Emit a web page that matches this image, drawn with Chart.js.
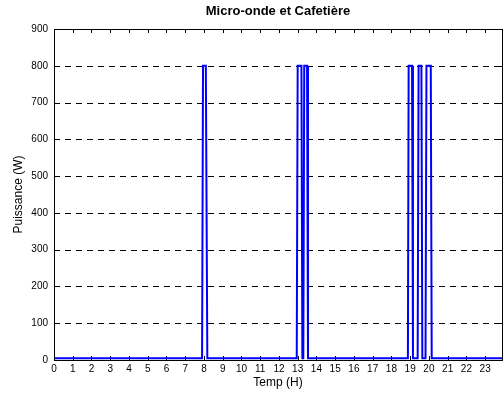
<!DOCTYPE html>
<html>
<head>
<meta charset="utf-8">
<title>Micro-onde et Cafetière</title>
<script src="https://cdn.jsdelivr.net/npm/chart.js@4/dist/chart.umd.min.js"></script>
<style>
  html, body { margin: 0; padding: 0; background: #fff; }
  #wrap { width: 504px; height: 403px; }
</style>
</head>
<body>
<div id="wrap"><canvas id="chart" width="504" height="403"></canvas></div>
<script>
// heures (H) et puissance (W)
var hours = [0, 7.9, 7.95, 8.1, 8.18, 12.95, 13.0, 13.2, 13.25, 13.3, 13.35, 13.5, 13.55,
  18.88, 18.92, 19.1, 19.15, 19.4, 19.45, 19.6, 19.65, 19.82, 19.87, 20.1, 20.15, 23.9];
var power = [5, 5, 800, 800, 5, 5, 800, 800, 5, 5, 800, 800, 5,
  5, 800, 800, 5, 5, 800, 800, 5, 5, 800, 800, 5, 5];

var xTicks = [0, 1, 2, 3, 4, 5, 6, 7, 8, 9, 10, 11, 12, 13, 14, 15, 16, 17, 18, 19, 20, 21, 22, 23];
var yTicks = [0, 100, 200, 300, 400, 500, 600, 700, 800, 900];

var chartTitle = 'Micro-onde et Cafetière';
var xLabel = 'Temp (H)';
var yLabel = 'Puissance (W)';

(function() {

  var font = "'Liberation Sans', Arial, Helvetica, sans-serif";

  // grille pointillée, cadre et graduations vers l'intérieur (style matlab)
  var matlabAxes = {
    id: 'matlabAxes',
    beforeDatasetsDraw: function(chart){
      var ctx = chart.ctx;
      var a = chart.chartArea;
      var xs = chart.scales.x;
      var ys = chart.scales.y;
      var tick = 4;

      ctx.save();
      ctx.strokeStyle = '#000';
      ctx.lineWidth = 1;

      ctx.setLineDash([6, 5]);
      yTicks.forEach(function(v){
        if (v === 0 || v === 900) return;
        var py = Math.round(ys.getPixelForValue(v)) + 0.5;
        ctx.beginPath();
        ctx.moveTo(a.left, py);
        ctx.lineTo(a.right, py);
        ctx.stroke();
      });
      ctx.setLineDash([]);

      ctx.beginPath();
      xTicks.forEach(function(v){
        var px = Math.round(xs.getPixelForValue(v)) + 0.5;
        ctx.moveTo(px, a.bottom);
        ctx.lineTo(px, a.bottom - tick);
        ctx.moveTo(px, a.top);
        ctx.lineTo(px, a.top + tick);
      });
      yTicks.forEach(function(v){
        var py = Math.round(ys.getPixelForValue(v)) + 0.5;
        ctx.moveTo(a.left, py);
        ctx.lineTo(a.left + tick, py);
        ctx.moveTo(a.right, py);
        ctx.lineTo(a.right - tick, py);
      });
      ctx.stroke();
      ctx.restore();
    },
    afterDatasetsDraw: function(chart){
      var ctx = chart.ctx;
      var a = chart.chartArea;
      ctx.save();
      ctx.strokeStyle = '#000';
      ctx.lineWidth = 1;
      ctx.strokeRect(Math.round(a.left) + 0.5, Math.round(a.top) + 0.5,
        Math.round(a.right - a.left), Math.round(a.bottom - a.top));
      ctx.restore();
    }
  };

  var points = hours.map(function(h, i){ return {x: h, y: power[i]}; });

  new Chart(document.getElementById('chart'), {
    type: 'line',
    data: {
      datasets: [{
        data: points,
        borderColor: '#0000ff',
        borderWidth: 2,
        pointRadius: 0,
        tension: 0,
        fill: false
      }]
    },
    options: {
      responsive: false,
      animation: false,
      events: [],
      layout: {padding: {left: 0, right: 2, top: 0, bottom: 0}},
      plugins: {
        legend: {display: false},
        tooltip: {enabled: false},
        title: {
          display: true,
          fullSize: false,
          text: chartTitle,
          color: '#000',
          font: {family: font, size: 13, weight: 'bold'},
          padding: {top: 4, bottom: 9.4}
        }
      },
      scales: {
        x: {
          type: 'linear',
          min: 0,
          max: 23.9,
          afterFit: function(s){ s.height = 43; },
          afterBuildTicks: function(s){
            s.ticks = xTicks.map(function(v){ return {value: v}; });
          },
          grid: {display: false, drawTicks: false},
          border: {display: false},
          ticks: {
            color: '#000',
            font: {family: font, size: 10},
            padding: 3,
            maxRotation: 0,
            autoSkip: false,
            includeBounds: false
          },
          title: {
            display: true,
            text: xLabel,
            color: '#000',
            font: {family: font, size: 12},
            padding: {top: 0, bottom: 13}
          }
        },
        y: {
          type: 'linear',
          min: 0,
          max: 900,
          afterFit: function(s){ s.width = 54; },
          afterBuildTicks: function(s){
            s.ticks = yTicks.map(function(v){ return {value: v}; });
          },
          grid: {display: false, drawTicks: false},
          border: {display: false},
          ticks: {
            color: '#000',
            font: {family: font, size: 10},
            padding: 6,
            autoSkip: false
          },
          title: {
            display: true,
            text: yLabel,
            color: '#000',
            font: {family: font, size: 12},
            padding: {top: 11, bottom: 0}
          }
        }
      }
    },
    plugins: [matlabAxes]
  });

}());
</script>
</body>
</html>
